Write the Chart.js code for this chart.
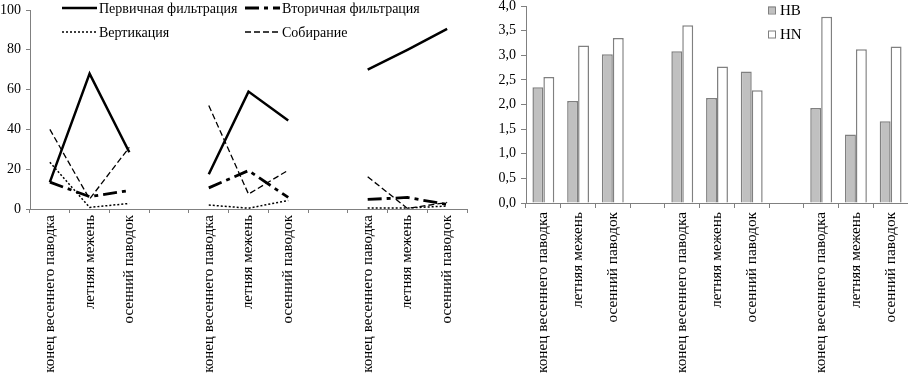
<!DOCTYPE html>
<html>
<head>
<meta charset="utf-8">
<script src="https://cdn.jsdelivr.net/npm/chart.js@4.4.0/dist/chart.umd.min.js"></script>
<style>
  html, body { margin: 0; padding: 0; background: #fff; }
  #wrap { position: relative; width: 908px; height: 380px; overflow: hidden; }
  #left { position: absolute; left: 0; top: 0; width: 472px; height: 380px; }
  #right { position: absolute; left: 470px; top: 0; width: 438px; height: 380px; }
</style>
</head>
<body>
<div id="wrap">
  <div id="left"><canvas id="lineChart"></canvas></div>
  <div id="right"><canvas id="barChart"></canvas></div>
</div>
<script>
// categories: three sites, each with three hydrological periods, empty slot between sites
var periods = ["конец весеннего паводка", "летняя межень", "осенний паводок"];
var categories = periods.concat([""], periods, [""], periods);

// left chart, % of feeding groups
var seriesNames = ["Первичная фильтрация", "Вторичная фильтрация", "Вертикация", "Собирание"];
var primaryFiltration = [13.5, 68, 28.5, null, 17.5, 59, 44.5, null, 70, 80, 90.5];
var secondaryFiltration = [13.5, 6.2, 9.3, null, 10.6, 19.3, 5.8, null, 4.8, 5.8, 2.3];
var verticalFeeding = [23.5, 0.8, 2.8, null, 2, 0.4, 4.3, null, 0.5, 0.5, 1.5];
var gathering = [40, 5, 31, null, 52, 7.5, 19.5, null, 16.2, 0.3, 3.3];
var lineTicks = [0, 20, 40, 60, 80, 100];

// right chart, HB / HN indices
var barNames = ["HB", "HN"];
var hbValues = [2.35, 2.07, 3.02, null, 3.08, 2.13, 2.67, null, 1.93, 1.39, 1.66];
var hnValues = [2.56, 3.2, 3.35, null, 3.61, 2.77, 2.29, null, 3.78, 3.12, 3.18];
var barTicks = [0, 0.5, 1, 1.5, 2, 2.5, 3, 3.5, 4];

var FONT = "'Liberation Serif', 'Times New Roman', serif";
var AXIS_GREY = "#808080";

// legend drawn by hand so that it sits inside the plot like the original
var manualLegend = {
  id: "manualLegend",
  afterDraw: function (chart, args, opts) {
    var ctx = chart.ctx;
    ctx.save();
    ctx.font = opts.fontSize + "px " + FONT;
    ctx.fillStyle = "#000";
    ctx.textBaseline = "middle";
    chart.data.datasets.forEach(function (ds, i) {
      var p = opts.slots[i];
      if (opts.kind === "line") {
        ctx.beginPath();
        ctx.strokeStyle = ds.borderColor;
        ctx.lineWidth = ds.borderWidth;
        ctx.setLineDash(ds.borderDash || []);
        ctx.moveTo(p[0], p[1]);
        ctx.lineTo(p[0] + opts.sampleWidth, p[1]);
        ctx.stroke();
        ctx.setLineDash([]);
      } else {
        ctx.fillStyle = ds.backgroundColor;
        ctx.fillRect(p[0], p[1] - 3.5, 7, 7);
        ctx.strokeStyle = ds.borderColor;
        ctx.lineWidth = 1;
        ctx.strokeRect(p[0] + 0.5, p[1] - 3, 7, 7);
        ctx.fillStyle = "#000";
      }
      ctx.fillText(ds.label, p[0] + opts.textGap, p[1] + 1);
    });
    ctx.restore();
  }
};

function noPad(scale) {
  scale.paddingTop = 0;
  scale.paddingBottom = 0;
  scale.paddingLeft = 0;
  scale.paddingRight = 0;
}

// ---- left: line chart ----
new Chart(document.getElementById("lineChart"), {
  type: "line",
  data: {
    labels: categories,
    datasets: [
      { label: seriesNames[0], data: primaryFiltration, borderColor: "#000", borderWidth: 2.5, borderDash: [] },
      { label: seriesNames[1], data: secondaryFiltration, borderColor: "#000", borderWidth: 2.8, borderDash: [14, 5, 4, 5] },
      { label: seriesNames[2], data: verticalFeeding, borderColor: "#000", borderWidth: 1.5, borderDash: [2, 2] },
      { label: seriesNames[3], data: gathering, borderColor: "#000", borderWidth: 1.3, borderDash: [6, 3] }
    ]
  },
  options: {
    responsive: true,
    maintainAspectRatio: false,
    animation: false,
    layout: { padding: { top: 10, left: 0, right: 5, bottom: 0 } },
    elements: { point: { radius: 0 }, line: { tension: 0 } },
    plugins: {
      legend: { display: false },
      tooltip: { enabled: false },
      manualLegend: {
        kind: "line",
        fontSize: 14,
        sampleWidth: 35,
        textGap: 37,
        slots: [[62, 8], [245, 8], [62, 32], [245, 32]]
      }
    },
    scales: {
      x: {
        offset: true,
        grid: { offset: true, drawOnChartArea: false, tickLength: 4, color: AXIS_GREY },
        border: { color: AXIS_GREY },
        ticks: { autoSkip: false, minRotation: 90, maxRotation: 90, padding: 2, color: "#000", font: { family: FONT, size: 15 } },
        afterFit: function (s) { s.height = 171; noPad(s); }
      },
      y: {
        min: 0,
        max: 100,
        afterBuildTicks: function (s) { s.ticks = lineTicks.map(function (v) { return { value: v }; }); },
        grid: { drawOnChartArea: false, tickLength: 4, color: AXIS_GREY },
        border: { color: AXIS_GREY },
        ticks: { padding: 5, color: "#000", font: { family: FONT, size: 14 } },
        afterFit: function (s) { s.width = 30; noPad(s); }
      }
    }
  },
  plugins: [manualLegend]
});

// ---- right: bar chart ----
new Chart(document.getElementById("barChart"), {
  type: "bar",
  data: {
    labels: categories,
    datasets: [
      { label: barNames[0], data: hbValues, backgroundColor: "#c0c0c0", borderColor: AXIS_GREY, borderWidth: 1.5 },
      { label: barNames[1], data: hnValues, backgroundColor: "#ffffff", borderColor: AXIS_GREY, borderWidth: 1.5 }
    ]
  },
  options: {
    responsive: true,
    maintainAspectRatio: false,
    animation: false,
    layout: { padding: { top: 6, left: 0, right: 0, bottom: 0 } },
    datasets: { bar: { categoryPercentage: 0.63, barPercentage: 1 } },
    plugins: {
      legend: { display: false },
      tooltip: { enabled: false },
      manualLegend: {
        kind: "bar",
        fontSize: 15,
        textGap: 12,
        slots: [[298, 10], [298, 34]]
      }
    },
    scales: {
      x: {
        grid: { offset: true, drawOnChartArea: false, tickLength: 5, color: AXIS_GREY },
        border: { color: AXIS_GREY },
        ticks: { autoSkip: false, minRotation: 90, maxRotation: 90, padding: 4, color: "#000", font: { family: FONT, size: 15.3 } },
        afterFit: function (s) { s.height = 177; noPad(s); }
      },
      y: {
        min: 0,
        max: 4,
        afterBuildTicks: function (s) { s.ticks = barTicks.map(function (v) { return { value: v }; }); },
        grid: { drawOnChartArea: false, tickLength: 5, color: AXIS_GREY },
        border: { color: AXIS_GREY },
        ticks: {
          padding: 5,
          color: "#000",
          font: { family: FONT, size: 14 },
          callback: function (v) { return Number(v).toFixed(1).replace(".", ","); }
        },
        afterFit: function (s) { s.width = 56; noPad(s); }
      }
    }
  },
  plugins: [manualLegend]
});
</script>
</body>
</html>
